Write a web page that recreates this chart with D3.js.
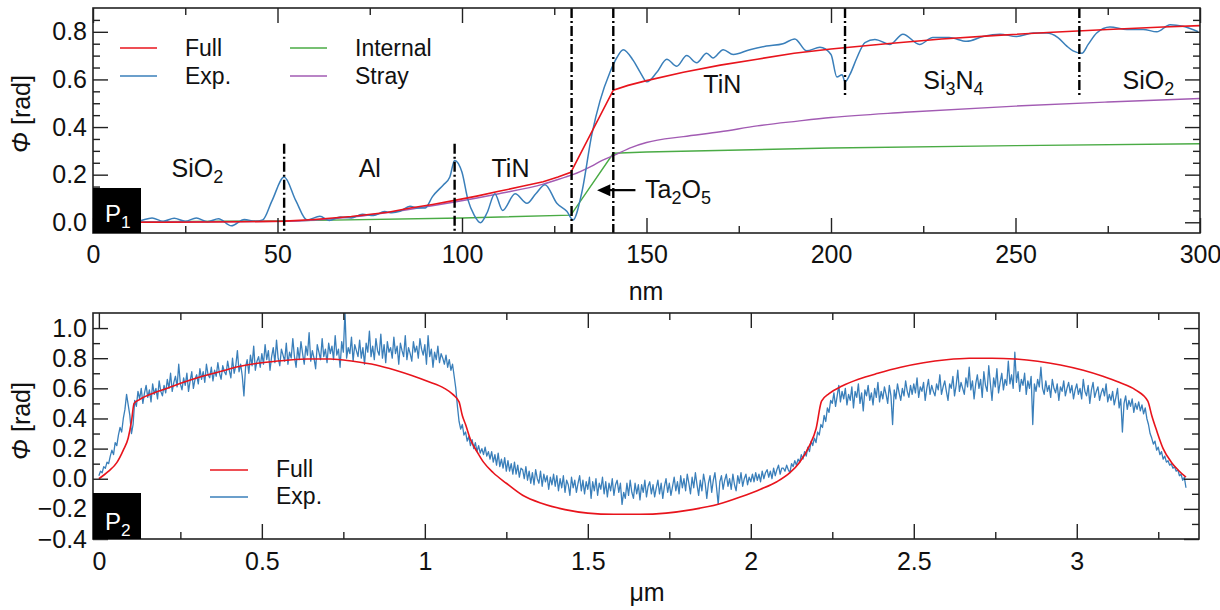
<!DOCTYPE html>
<html><head><meta charset="utf-8">
<script src="https://cdn.jsdelivr.net/npm/d3@7/dist/d3.min.js"></script>
<style>body{margin:0;background:#fff}svg{display:block}text{font-family:"Liberation Sans",Arial,sans-serif;fill:#111}</style>
</head><body>
<script>
// ---------- Panel P1 data (nm, rad) ----------
const p1FullX = [0,20,40,52,60,70,80,86,92,98,104,110,116,122,126,129.5,141,145,150,160,170,180,190,200,215,230,245,260,275,290,300];
const p1FullY = [0,0,0.002,0.005,0.012,0.024,0.042,0.06,0.075,0.092,0.11,0.13,0.15,0.17,0.19,0.21,0.555,0.575,0.595,0.63,0.66,0.685,0.71,0.728,0.75,0.77,0.785,0.798,0.81,0.82,0.826];
const p1StrayX = [0,52,70,86,98,110,122,128,130,135,138,141,146,150,160,170,180,191,200,220,250,275,300];
const p1StrayY = [0,0.004,0.022,0.055,0.085,0.12,0.16,0.19,0.2,0.235,0.26,0.28,0.315,0.335,0.36,0.38,0.405,0.425,0.44,0.462,0.488,0.505,0.52];
const p1InternalX = [0,52,100,129.5,141,150,200,250,300];
const p1InternalY = [0,0.006,0.018,0.03,0.29,0.295,0.312,0.322,0.33];
const p1ExpX = [0,4,8,12,16,19,22,25,28,31,34,37.5,41,44,46,48.5,51.8,55,58,61.5,64,67,70,73,76,79,81,83.2,85.9,88,90,92,95,96.7,98,100,101.6,103.3,105,106.8,108.9,111,114.4,117.6,120,122.5,125.7,128.4,130.1,132.4,135.2,137.4,140.1,141.9,143.7,146.4,148.3,150.1,152.8,155.5,158.2,160.9,163.6,166.3,168,170.8,173.5,178,182.5,187,190.2,193.4,197,200,201.6,203,203.8,205.1,207,209.2,211.9,216,219.5,224,227.6,232,236.8,241.2,245.8,250.3,254.8,258.4,261.5,263.9,265.6,268,269.7,272,275.6,280.2,284.6,288.3,291.9,295.4,299.5];
const p1ExpY = [0.01,0,0.012,0.005,0.018,0.004,0.017,0.004,0.018,0.002,0.015,-0.015,0.012,0.004,0.01,0.09,0.19,0.09,0.01,0.025,0.008,0.022,0.018,0.034,0.028,0.045,0.04,0.046,0.067,0.06,0.06,0.108,0.158,0.19,0.26,0.21,0.095,0.03,-0.002,0.04,0.12,0.05,0.12,0.08,0.12,0.158,0.08,0.046,0.01,0.12,0.37,0.51,0.63,0.69,0.725,0.68,0.63,0.59,0.63,0.685,0.655,0.70,0.67,0.71,0.69,0.725,0.705,0.725,0.74,0.75,0.77,0.72,0.735,0.705,0.61,0.62,0.59,0.62,0.69,0.755,0.768,0.747,0.79,0.747,0.776,0.776,0.76,0.78,0.79,0.78,0.795,0.795,0.776,0.74,0.72,0.71,0.747,0.795,0.82,0.81,0.81,0.80,0.83,0.823,0.80];
const p1XTicks = [0,50,100,150,200,250,300];
const p1YTicks = [0,0.2,0.4,0.6,0.8];
// layer boundaries
const p1BoundX = [51.8,98,129.7,141,203.8,267.3];
const p1BoundFrom = [0.33,0.33,0.9,0.9,0.9,0.9];
const p1BoundTo = [-0.045,-0.045,-0.045,-0.045,0.533,0.533];
const p1Labels = [
  {x:21.3,y:0.192,parts:[["SiO"],["2",1]]},
  {x:72,y:0.192,parts:[["Al"]]},
  {x:108,y:0.192,parts:[["TiN"]]},
  {x:165.4,y:0.545,parts:[["TiN"]]},
  {x:225,y:0.56,parts:[["Si"],["3",1],["N"],["4",1]]},
  {x:279,y:0.56,parts:[["SiO"],["2",1]]}
];

// ---------- Panel P2 data (µm, rad) ----------
const p2FullX = [0,0.03,0.055,0.075,0.09,0.1,0.108,0.126,0.17,0.21,0.26,0.31,0.37,0.43,0.5,0.57,0.64,0.71,0.78,0.85,0.91,0.96,1.01,1.06,1.086,1.105,1.115,1.125,1.14,1.16,1.18,1.21,1.25,1.3,1.36,1.43,1.5,1.58,1.66,1.74,1.82,1.9,1.97,2.03,2.08,2.12,2.15,2.18,2.2,2.217,2.24,2.28,2.33,2.39,2.46,2.53,2.6,2.67,2.74,2.81,2.88,2.95,3.02,3.08,3.13,3.18,3.218,3.23,3.245,3.265,3.29,3.31,3.335];
const p2FullY = [0,0.05,0.107,0.19,0.27,0.38,0.5,0.527,0.57,0.6,0.64,0.675,0.71,0.745,0.77,0.785,0.795,0.795,0.78,0.755,0.72,0.685,0.645,0.6,0.56,0.51,0.42,0.36,0.26,0.18,0.11,0.04,-0.03,-0.11,-0.165,-0.205,-0.228,-0.236,-0.236,-0.228,-0.205,-0.17,-0.12,-0.07,-0.02,0.04,0.11,0.22,0.33,0.515,0.565,0.615,0.66,0.70,0.74,0.77,0.79,0.80,0.80,0.795,0.78,0.755,0.72,0.68,0.64,0.59,0.515,0.42,0.32,0.2,0.11,0.06,0.01];
const p2ExpStart = 0, p2ExpStep = 0.005;
const p2ExpY = [
0.02,0.05,0.04,0.08,0.07,0.11,0.10,0.15,0.19,0.16,0.24,0.22,0.29,0.34,0.31,0.40,0.46,0.56,0.49,0.42,
0.30,0.36,0.52,0.48,0.58,0.53,0.60,0.50,0.57,0.62,0.54,0.59,0.51,0.63,0.56,0.60,0.53,0.65,0.58,0.55,
0.62,0.57,0.66,0.60,0.70,0.58,0.64,0.68,0.61,0.76,0.63,0.59,0.67,0.62,0.70,0.58,0.65,0.71,0.60,0.66,
0.69,0.63,0.73,0.66,0.71,0.64,0.76,0.69,0.67,0.74,0.65,0.72,0.68,0.77,0.70,0.66,0.75,0.71,0.69,0.78,
0.72,0.67,0.80,0.70,0.75,0.85,0.71,0.76,0.68,0.55,0.74,0.79,0.70,0.82,0.75,0.88,0.72,0.78,0.81,0.74,
0.83,0.76,0.89,0.79,0.85,0.72,0.81,0.87,0.77,0.92,0.80,0.75,0.86,0.82,0.78,0.90,0.76,0.84,0.80,0.93,
0.81,0.74,0.87,0.79,0.91,0.83,0.76,0.88,0.82,0.97,0.78,0.85,0.80,0.73,0.89,0.84,0.79,0.93,0.81,0.86,
0.77,0.90,0.83,0.88,0.79,0.95,0.82,0.86,0.74,0.91,0.84,1.11,0.80,0.87,0.83,0.94,0.78,0.89,0.85,0.81,
0.92,0.80,0.87,0.76,0.90,0.84,0.98,0.81,0.88,0.79,0.93,0.85,0.82,0.96,0.80,0.89,0.77,0.91,0.84,0.87,
0.80,0.94,0.83,0.88,0.76,0.90,0.85,0.81,0.95,0.79,0.87,0.83,0.78,0.91,0.84,0.88,0.80,0.93,0.86,0.82,
0.89,0.76,0.95,0.81,0.86,0.74,0.84,0.79,0.88,0.77,0.83,0.80,0.76,0.82,0.74,0.79,0.72,0.76,0.68,0.60,
0.48,0.38,0.33,0.36,0.29,0.31,0.25,0.28,0.22,0.26,0.20,0.24,0.18,0.22,0.17,0.20,0.16,0.21,0.15,0.18,
0.13,0.18,0.11,0.16,0.09,0.17,0.08,0.13,0.07,0.14,0.05,0.12,0.05,0.10,0.03,0.11,0.03,0.09,0.01,0.07,
0.06,0.00,0.08,-0.01,0.05,-0.03,0.04,-0.04,0.06,0.00,-0.03,0.05,-0.05,0.03,-0.02,0.02,-0.07,0.01,-0.04,0.03,
-0.05,0.02,-0.08,0.00,-0.06,0.02,-0.09,-0.01,-0.04,-0.11,0.01,-0.06,-0.01,-0.09,-0.03,0.02,-0.08,-0.01,-0.10,-0.02,
-0.07,0.01,-0.13,-0.02,-0.08,0.00,-0.11,-0.03,-0.07,0.01,-0.10,-0.02,-0.12,-0.03,-0.08,0.00,-0.11,-0.04,-0.01,-0.09,
-0.03,-0.17,-0.09,-0.13,-0.03,-0.11,-0.01,-0.09,-0.13,-0.03,-0.10,-0.04,-0.14,-0.04,-0.09,-0.01,-0.12,-0.05,-0.02,-0.10,
-0.04,-0.12,-0.06,-0.01,-0.10,-0.03,-0.13,-0.05,0.00,-0.09,-0.03,-0.11,-0.05,0.01,-0.08,-0.02,-0.10,0.02,-0.06,0.00,
-0.08,0.03,-0.03,-0.10,0.01,-0.06,0.04,-0.04,-0.11,-0.01,-0.08,0.03,-0.03,-0.13,-0.03,0.02,-0.09,-0.01,0.04,-0.06,
-0.17,-0.02,0.02,-0.07,-0.01,0.03,-0.05,0.00,-0.07,0.03,-0.04,-0.08,0.02,-0.03,0.04,-0.05,0.00,0.03,-0.04,0.01,
-0.02,0.03,-0.02,0.04,-0.01,0.03,-0.02,0.05,0.00,0.04,0.06,0.01,0.05,0.00,0.07,0.02,0.06,0.09,0.03,0.07,
0.07,0.05,0.09,0.06,0.04,0.10,0.08,0.12,0.09,0.13,0.11,0.16,0.13,0.18,0.15,0.21,0.18,0.25,0.22,0.27,
0.24,0.31,0.29,0.36,0.34,0.42,0.38,0.47,0.44,0.52,0.50,0.57,0.48,0.55,0.62,0.51,0.58,0.53,0.60,0.49,
0.56,0.52,0.61,0.47,0.58,0.54,0.63,0.50,0.57,0.45,0.59,0.55,0.62,0.52,0.57,0.49,0.60,0.54,0.64,0.51,
0.58,0.53,0.61,0.56,0.50,0.62,0.55,0.36,0.59,0.53,0.63,0.57,0.52,0.60,0.55,0.65,0.58,0.54,0.62,0.56,
0.63,0.57,0.67,0.54,0.61,0.58,0.64,0.52,0.60,0.66,0.56,0.62,0.58,0.55,0.63,0.59,0.69,0.56,0.61,0.65,
0.58,0.52,0.63,0.60,0.68,0.55,0.62,0.72,0.58,0.64,0.60,0.56,0.67,0.61,0.74,0.59,0.65,0.53,0.63,0.69,
0.60,0.66,0.54,0.71,0.62,0.58,0.75,0.63,0.52,0.67,0.61,0.73,0.57,0.64,0.70,0.59,0.66,0.62,0.78,0.63,
0.69,0.60,0.84,0.64,0.71,0.58,0.66,0.62,0.70,0.56,0.65,0.60,0.68,0.36,0.63,0.58,0.66,0.61,0.74,0.60,
0.56,0.65,0.58,0.62,0.54,0.66,0.60,0.57,0.63,0.52,0.61,0.58,0.65,0.55,0.60,0.64,0.57,0.62,0.53,0.59,
0.63,0.56,0.60,0.53,0.66,0.58,0.55,0.62,0.50,0.59,0.64,0.54,0.58,0.61,0.52,0.57,0.60,0.55,0.63,0.51,
0.56,0.52,0.58,0.49,0.54,0.60,0.47,0.53,0.31,0.50,0.55,0.46,0.52,0.48,0.53,0.44,0.50,0.46,0.51,0.45,
0.49,0.43,0.47,0.40,0.36,0.30,0.27,0.23,0.25,0.19,0.21,0.16,0.18,0.13,0.15,0.11,0.12,0.09,0.10,0.07,
0.08,0.05,0.06,0.02,0.03,-0.01,0.01,-0.06];
const p2XTicks = [0,0.5,1,1.5,2,2.5,3];
const p2YTicks = [-0.4,-0.2,0,0.2,0.4,0.6,0.8,1.0];

const C = {full:"#e8141c", exp:"#3a7fba", internal:"#4aab45", stray:"#a25bb3"};
const FS = 25;

const svg = d3.select("body").append("svg").attr("width",1220).attr("height",610);
const fmtY = v => (v<0?"\u2212":"") + Math.abs(v).toFixed(1);

function richText(g, x, y, parts, size){
  const t = g.append("text").attr("x",x).attr("y",y).style("font-size",size+"px");
  let sub=false;
  parts.forEach(p=>{
    const s = !!p[1];
    const ts = t.append("tspan").text(p[0]);
    if(s && !sub){ ts.attr("dy", size*0.25).style("font-size",(size*0.72)+"px"); }
    else if(!s && sub){ ts.attr("dy", -size*0.25); }
    else if(s){ ts.style("font-size",(size*0.72)+"px"); }
    sub = s;
  });
  return t;
}

function frameAxes(g, x, y, xMajor, xMinor, yMajor, yMinor, xFmt, yFmt, clipId, xPad){
  const [x0,x1] = x.range(), [y0,y1] = y.range();
  g.append("defs").append("clipPath").attr("id",clipId).append("rect")
    .attr("x",x0).attr("y",y1).attr("width",x1-x0).attr("height",y0-y1);
  const style = s => { s.select(".domain").remove(); s.attr("font-size",null).attr("font-family",null); s.selectAll("line").attr("stroke","#222").attr("stroke-width",1.4); s.selectAll("text").style("font-size",FS+"px").attr("fill","#111"); };
  g.append("g").attr("transform",`translate(0,${y0})`).call(d3.axisBottom(x).tickValues(xMajor).tickSize(-15).tickPadding(xPad).tickFormat(xFmt)).call(style);
  g.append("g").attr("transform",`translate(0,${y0})`).call(d3.axisBottom(x).tickValues(xMinor).tickSize(-7).tickFormat("")).call(style);
  g.append("g").attr("transform",`translate(0,${y1})`).call(d3.axisTop(x).tickValues(xMajor).tickSize(-15).tickFormat("")).call(style);
  g.append("g").attr("transform",`translate(0,${y1})`).call(d3.axisTop(x).tickValues(xMinor).tickSize(-7).tickFormat("")).call(style);
  g.append("g").attr("transform",`translate(${x0},0)`).call(d3.axisLeft(y).tickValues(yMajor).tickSize(-15).tickPadding(6).tickFormat(yFmt)).call(style);
  g.append("g").attr("transform",`translate(${x0},0)`).call(d3.axisLeft(y).tickValues(yMinor).tickSize(-7).tickFormat("")).call(style);
  g.append("g").attr("transform",`translate(${x1},0)`).call(d3.axisRight(y).tickValues(yMajor).tickSize(-15).tickFormat("")).call(style);
  g.append("g").attr("transform",`translate(${x1},0)`).call(d3.axisRight(y).tickValues(yMinor).tickSize(-7).tickFormat("")).call(style);
  g.append("rect").attr("x",x0).attr("y",y1).attr("width",x1-x0).attr("height",y0-y1)
    .attr("fill","none").attr("stroke","#222").attr("stroke-width",1.6);
}

function yLabel(g, cx, cy){
  const t = g.append("text").attr("transform",`translate(${cx},${cy}) rotate(-90)`).attr("text-anchor","middle").style("font-size",FS+"px");
  t.append("tspan").style("font-style","italic").text("\u03A6");
  t.append("tspan").text(" [rad]");
}

function pBox(g, x0, y0, w, h, sub, base){
  g.append("rect").attr("x",x0).attr("y",y0).attr("width",w).attr("height",h).attr("fill","#000");
  const t = richText(g, x0+12, base, [["P"],[sub,1]], 24);
  t.selectAll("tspan").attr("fill","#fff");
  t.attr("fill","#fff");
}

// ===== Panel 1 =====
{
  const g = svg.append("g");
  const x = d3.scaleLinear().domain([0,300]).range([93,1200]);
  const y = d3.scaleLinear().domain([-0.045,0.9]).range([233,8]);
  const xMinor = d3.range(25,300,50);
  const yMinor = d3.range(0,0.9,0.05).filter(v=>Math.abs(Math.round(v*5)-v*5)>1e-6);
  const line = d3.line().x(d=>x(d[0])).y(d=>y(d[1]));
  const lines = g.append("g").attr("clip-path","url(#clip1)");
  lines.append("path").datum(d3.zip(p1InternalX,p1InternalY)).attr("d",line).attr("fill","none").attr("stroke",C.internal).attr("stroke-width",1.4);
  lines.append("path").datum(d3.zip(p1StrayX,p1StrayY)).attr("d",line.curve(d3.curveMonotoneX)).attr("fill","none").attr("stroke",C.stray).attr("stroke-width",1.4);
  lines.append("path").datum(d3.zip(p1ExpX,p1ExpY)).attr("d",line.curve(d3.curveMonotoneX)).attr("fill","none").attr("stroke",C.exp).attr("stroke-width",1.5);
  lines.append("path").datum(d3.zip(p1FullX,p1FullY)).attr("d",line.curve(d3.curveLinear)).attr("fill","none").attr("stroke",C.full).attr("stroke-width",1.6);
  p1BoundX.forEach((bx,i)=>{
    g.append("line").attr("x1",x(bx)).attr("x2",x(bx)).attr("y1",y(p1BoundFrom[i])).attr("y2",y(p1BoundTo[i]))
      .attr("stroke","#000").attr("stroke-width",2.4).attr("stroke-dasharray","10,3,2,3");
  });
  p1Labels.forEach(l=>richText(g, x(l.x), y(l.y), l.parts, FS));
  const ay = y(0.135);
  g.append("line").attr("x1",x(147)).attr("x2",x(139.5)).attr("y1",ay).attr("y2",ay).attr("stroke","#000").attr("stroke-width",2.2);
  g.append("path").attr("d",`M${x(136.6)},${ay} L${x(140.2)},${ay-6} L${x(140.2)},${ay+6} Z`).attr("fill","#000");
  richText(g, x(149.6), ay+8, [["Ta"],["2",1],["O"],["5",1]], FS);
  frameAxes(g, x, y, p1XTicks, xMinor, p1YTicks, yMinor, d3.format("d"), fmtY, "clip1", 12);
  const leg = [["Full",C.full,120,48],["Exp.",C.exp,120,76],["Internal",C.internal,290,48],["Stray",C.stray,290,76]];
  leg.forEach(([t,c,lx,ly])=>{
    g.append("line").attr("x1",lx).attr("x2",lx+37).attr("y1",ly).attr("y2",ly).attr("stroke",c).attr("stroke-width",1.6);
    g.append("text").attr("x",lx+65).attr("y",ly+8).style("font-size","23px").text(t);
  });
  pBox(g, 93, 188, 48, 45, "1", 222);
  yLabel(g, 30, 114);
  g.append("text").attr("x",646).attr("y",300).attr("text-anchor","middle").style("font-size",FS+"px").text("nm");
}

// ===== Panel 2 =====
{
  const g = svg.append("g");
  const x = d3.scaleLinear().domain([-0.018,3.375]).range([93,1199]);
  const y = d3.scaleLinear().domain([-0.4,1.1]).range([539,313]);
  const xMinor = [0.25,0.75,1.25,1.75,2.25,2.75,3.25];
  const yMinor = [-0.3,-0.1,0.1,0.3,0.5,0.7,0.9];
  const line = d3.line().x(d=>x(d[0])).y(d=>y(d[1]));
  const lines = g.append("g").attr("clip-path","url(#clip2)");
  const expPts = p2ExpY.map((v,i)=>[p2ExpStart+i*p2ExpStep, v]);
  lines.append("path").datum(expPts).attr("d",line).attr("fill","none").attr("stroke",C.exp).attr("stroke-width",1.3).attr("stroke-linejoin","round");
  lines.append("path").datum(d3.zip(p2FullX,p2FullY)).attr("d",line.curve(d3.curveMonotoneX)).attr("fill","none").attr("stroke",C.full).attr("stroke-width",1.6);
  frameAxes(g, x, y, p2XTicks, xMinor, p2YTicks, yMinor, d3.format(""), fmtY, "clip2", 13);
  const leg = [["Full",C.full,210,470],["Exp.",C.exp,210,497]];
  leg.forEach(([t,c,lx,ly])=>{
    g.append("line").attr("x1",lx).attr("x2",lx+38).attr("y1",ly).attr("y2",ly).attr("stroke",c).attr("stroke-width",1.6);
    g.append("text").attr("x",lx+66).attr("y",ly+7).style("font-size","23px").text(t);
  });
  pBox(g, 93, 493, 48, 46, "2", 530);
  yLabel(g, 30, 421);
  g.append("text").attr("x",647).attr("y",601).attr("text-anchor","middle").style("font-size",FS+"px").text("\u03BCm");
}
</script>
</body></html>
